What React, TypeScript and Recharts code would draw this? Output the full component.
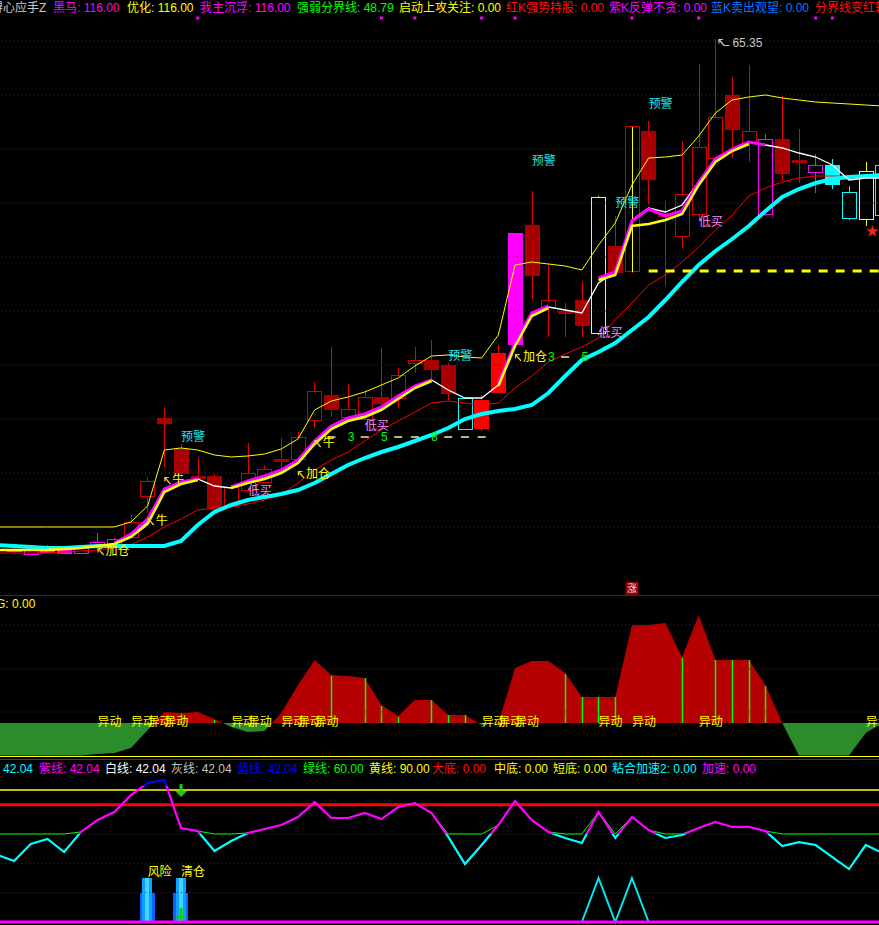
import React from 'react';
import { ComposedChart, Bar, Line, Area, XAxis, YAxis, ReferenceLine } from 'recharts';

const FONT = "'Liberation Sans','Noto Sans CJK SC',sans-serif";

// trading-day slots (slot 0 sits just off the left edge)
const DAYS = Array.from({ length: 54 }, (_, k) => k);

// ---------- candles ----------
const OPEN = [null, 39.70, 39.55, 39.80, 39.85, 39.60, 39.90, 40.00, 40.40, 42.45, 46.35, 44.80, 43.45, 43.45, 41.95, 42.75, 43.15, 44.30, 44.30, 46.25, 47.50, 46.40, 46.30, 47.40, 47.35, 49.10, 49.25, 49.00, 45.80, 45.85, 47.65, 50.05, 56.00, 51.90, 51.70, 52.25, 50.60, 54.95, 53.70, 60.70, 56.60, 55.45, 56.55, 59.35, 62.50, 60.10, 56.55, 60.30, 59.25, 58.65, 59.00, 56.35, 56.30, 56.50];
const HIGH = [null, 39.90, 39.85, 40.00, 39.95, 40.00, 40.60, 40.35, 41.50, 43.40, 46.85, 45.05, 44.35, 43.55, 43.00, 45.10, 44.00, 45.35, 45.65, 48.15, 49.90, 48.05, 47.75, 49.85, 48.85, 49.90, 50.25, 49.10, 47.35, 47.50, 50.00, 55.60, 57.75, 54.15, 52.10, 53.20, 57.50, 56.50, 60.95, 61.25, 57.25, 60.25, 64.10, 65.35, 63.45, 64.05, 60.60, 62.50, 60.85, 59.60, 59.35, 58.00, 59.20, 59.50];
const LOW = [null, 39.60, 39.50, 39.60, 39.55, 39.55, 39.85, 39.95, 40.35, 41.65, 43.90, 43.35, 43.25, 41.75, 41.90, 42.70, 43.10, 43.60, 44.25, 45.85, 46.40, 46.35, 46.25, 46.85, 46.85, 48.60, 48.25, 47.25, 45.80, 45.70, 47.60, 50.00, 52.30, 50.40, 50.40, 50.40, 50.50, 53.60, 53.65, 57.10, 53.00, 54.90, 56.25, 59.25, 59.40, 59.20, 56.50, 58.25, 58.15, 57.65, 57.85, 56.30, 56.00, 56.25];
const CLOSE = [null, 39.80, 39.75, 39.65, 39.60, 39.90, 40.15, 40.30, 41.15, 43.20, 46.10, 43.60, 43.35, 41.90, 42.90, 43.60, 43.80, 44.20, 45.40, 47.70, 46.80, 46.80, 47.40, 47.10, 48.50, 49.25, 48.80, 47.60, 47.35, 47.25, 49.60, 55.60, 53.50, 52.25, 51.60, 51.00, 57.40, 53.65, 60.95, 58.30, 56.45, 57.55, 59.90, 61.40, 60.80, 60.70, 60.30, 58.60, 59.15, 59.00, 58.05, 57.65, 58.70, 59.00];
// candle signal class: n normal, p purple-K, ps purple solid, c blue-K, y yellow, s strong red, nm normal with marker
const KIND = [null, 'p', 'p', 'p', 'p', 'p', 'p', 'p',
  'n', 'n', 'n', 'n', 'n', 'n', 'n', 'n', 'n', 'n', 'n', 'n', 'n', 'n', 'n', 'n', 'n', 'n', 'n', 'n',
  'c', 's', 's', 'ps', 'n', 'n', 'n', 'n', 'y', 'n', 'nm', 'n', 'n', 'n', 'n', 'n', 'n', 'n', 'p', 'n', 'n', 'p', 'c', 'c', 'y', 'c'];

// ---------- moving lines ----------
const CYAN_MA = [40.00, 39.95, 39.90, 39.85, 39.85, 39.90, 39.95, 39.95, 39.95, 39.95, 39.95, 40.20, 41.00, 41.65, 42.00, 42.25, 42.40, 42.55, 42.75, 43.10, 43.55, 44.00, 44.35, 44.65, 44.90, 45.20, 45.50, 45.85, 46.30, 46.55, 46.70, 46.80, 47.00, 47.60, 48.45, 49.25, 49.65, 50.10, 50.75, 51.40, 52.25, 53.15, 54.00, 54.70, 55.30, 55.95, 56.70, 57.40, 57.80, 58.10, 58.30, 58.40, 58.45, 58.50];
const RED_MA = [39.60, 39.60, 39.60, 39.60, 39.65, 39.70, 39.75, 39.85, 40.00, 40.40, 40.90, 41.30, 41.75, 41.85, 41.90, 42.05, 42.25, 42.50, 43.10, 43.75, 44.25, 44.65, 45.20, 45.75, 46.20, 46.65, 47.10, 47.20, 47.10, 47.00, 47.10, 47.85, 48.45, 49.15, 49.55, 49.90, 50.35, 51.25, 52.10, 53.00, 53.50, 54.15, 54.90, 55.75, 56.50, 57.45, 57.85, 58.15, 58.35, 58.45, 58.45, 58.45, 58.45, 58.45];
const WHITE_MA = [39.75, 39.75, 39.75, 39.75, 39.80, 39.85, 39.95, 40.05, 40.45, 41.15, 42.75, 43.10, 43.30, 42.95, 42.85, 43.15, 43.35, 43.65, 44.15, 45.10, 45.85, 46.25, 46.45, 46.80, 47.35, 47.90, 48.25, 47.75, 47.35, 47.35, 48.00, 50.15, 51.60, 51.90, 51.75, 51.60, 53.10, 53.65, 56.25, 56.85, 56.65, 57.00, 58.15, 59.25, 59.75, 60.15, 60.00, 59.85, 59.60, 59.40, 59.00, 58.25, 58.35, 58.35];
const YELLOW_MA = [39.75, 39.75, 39.75, 39.75, 39.80, 39.85, 39.95, 40.05, 40.40, 41.05, 42.65, 43.05, 43.25, null, 42.85, 43.10, 43.30, 43.60, 44.10, 45.05, 45.80, 46.20, 46.40, 46.75, 47.30, 47.85, 48.20, null, null, null, 47.95, 49.95, 51.45, 51.85, null, null, 53.25, 53.50, 55.95, 56.05, 56.25, 56.55, 58.00, 59.15, 59.70, 60.05, null, null, null, null, null, null, null, null];
const MAGENTA_MA = [null, null, null, null, null, null, null, 40.10, 40.55, 41.30, 42.80, 43.15, 43.30, null, 42.90, 43.20, 43.45, 43.75, 44.25, 45.20, 45.95, 46.35, 46.55, 46.90, 47.45, 47.95, 48.25, null, null, null, 48.10, 50.10, 51.60, 51.95, null, null, 53.35, 53.65, 56.20, 56.80, 56.45, 56.70, 58.15, 59.30, 59.80, 60.15, 60.00, null, null, null, null, null, null, null];
const UPPER_MA = [40.90, 40.90, 40.90, 40.90, 40.90, 40.90, 40.90, 40.90, 41.15, 41.95, 44.75, 44.85, 44.75, 44.50, 44.40, 44.45, 44.55, 44.80, 45.30, 46.75, 47.20, 47.40, 47.65, 48.00, 48.35, 48.95, 49.45, 49.50, 49.40, 49.35, 50.50, 54.00, 54.15, 54.05, 53.95, 53.75, 55.00, 56.10, 58.00, 59.35, 59.40, 59.50, 60.45, 61.60, 62.25, 62.40, 62.50, 62.35, 62.25, 62.15, 62.10, 62.05, 62.00, 61.95];

const PRICE_GRID = [65.20, 62.50, 59.80, 57.10, 54.40, 51.70, 49.00, 46.30, 43.60, 40.90];
const SUPPORT_LEVEL = 53.70;
const MARK_LEVEL = 66.35;

// [day, text, price]
const SIGNALS: [number, string, number][] = [
  [6, '加仓', 39.70], [9, '牛', 41.20], [10, '牛', 43.25], [11, '预警', 45.40], [15, '低买', 42.70],
  [18, '加仓', 43.55], [19, '牛', 45.10], [22, '低买', 45.95], [27, '预警', 49.45], [31, '加仓', 49.40],
  [32, '预警', 59.20], [36, '低买', 50.60], [37, '预警', 57.10], [38, '涨', 37.85], [39, '预警', 62.05],
  [42, '低买', 56.15], [43, '65.35', 65.10], [52, '★', 55.70],
];
const LEVELS: [number, string, number][] = [
  [20, '-', 45.40], [21, '3', 45.40], [22, '-', 45.40], [23, '5', 45.40], [24, '-', 45.40], [25, '-', 45.40],
  [26, '8', 45.40], [27, '-', 45.40], [28, '-', 45.40], [29, '-', 45.40],
  [33, '3', 49.40], [34, '-', 49.40], [35, '5', 49.40],
];
const MARK_DAYS = [12, 23, 25, 29, 31, 38, 42, 49, 50];

// ---------- middle panel ----------
const MID = [-32.5, -32.5, -32.5, -32.5, -32.5, -32.5, -31, -30, -25, -7, 11, 10, 11, 4, -4, -9, -8, 10, 38, 63, 48, 47, 45, 18, 7, 23, 23, 8, 8, -2, 0, 55, 62, 62, 50, 26, 26, 26, 98, 98, 100, 66, 108, 63, 63, 63, 38, 0, -32.5, -32.5, -32.5, -32.5, -10, 0];
const STICKS: [number, number][] = [[11, 9], [13, 3], [20, 47], [22, 45], [23, 17], [24, 6], [26, 23], [27, 8], [28, 8], [34, 49], [35, 26], [36, 26], [37, 26], [41, 65], [43, 63], [44, 63], [45, 63], [46, 37]];
const YIDONG_DAYS = [6, 8, 9, 10, 14, 15, 17, 18, 19, 29, 30, 31, 36, 38, 42, 52];
const MID_GRID = [11, 54, 98];

// ---------- bottom panel ----------
const OSC = [45.7, 41.6, 53.2, 56.6, 47.7, 61.4, 69.5, 75.0, 86.6, 94.8, 96.8, 64.1, 62.0, 48.4, 55.2, 60.7, 63.4, 66.1, 71.6, 81.8, 70.9, 70.9, 74.3, 70.2, 78.4, 81.1, 74.3, 58.0, 39.5, 52.5, 66.1, 82.5, 69.5, 61.4, 57.3, 53.9, 75.0, 57.3, 71.6, 62.7, 57.3, 59.3, 64.1, 68.2, 64.8, 64.8, 62.0, 51.8, 54.5, 52.5, 44.3, 36.1, 52.5, 47.0];
const GREEN60 = [60, 60, 60, 60, 60, 61.4, 69.5, 75.0, 86.6, 94.8, 96.8, 64.1, 62.0, 60, 60, 60.7, 63.4, 66.1, 71.6, 81.8, 70.9, 70.9, 74.3, 70.2, 78.4, 81.1, 74.3, 60, 60, 60, 66.1, 82.5, 69.5, 61.4, 60, 60, 75.0, 60, 71.6, 62.7, 60, 60, 64.1, 68.2, 64.8, 64.8, 62.0, 60, 60, 60, 60, 60, 60, 60];
const RISK: [number, number, number, string][] = [[9, 30, 20, '风险'], [11, 30, 20, '清仓']];
const ARROWS: [number, number, number][] = [[11, 85.2, 0.7]];
const TRI: [number, number][] = [[35, 0], [36, 30], [37, 0], [38, 30], [39, 0]];

// ---------- tables ----------
const topData = DAYS.map((d, k) => {
  const sg = SIGNALS.find((s) => s[0] === d);
  const lv = LEVELS.find((s) => s[0] === d);
  return {
    d,
    range: HIGH[k] == null ? null : [LOW[k], HIGH[k]],
    open: OPEN[k], high: HIGH[k], low: LOW[k], close: CLOSE[k], kind: KIND[k],
    cyan: CYAN_MA[k], red: RED_MA[k], white: WHITE_MA[k], yellow: YELLOW_MA[k], magenta: MAGENTA_MA[k], upper: UPPER_MA[k],
    sig: sg ? sg[1] : null, sigPrice: sg ? sg[2] : null,
    lvl: lv ? lv[1] : null, lvlPrice: lv ? lv[2] : null,
    mk: MARK_DAYS.includes(d) ? MARK_LEVEL : null,
  };
});
const midData = DAYS.map((d, k) => {
  const st = STICKS.find((s) => s[0] === d);
  return { d, mid: MID[k], stick: st ? st[1] : null, yd: YIDONG_DAYS.includes(d) ? 0.5 : null };
});
const botData = DAYS.map((d, k) => {
  const r = RISK.find((s) => s[0] === d);
  const a = ARROWS.find((s) => s[0] === d);
  const t = TRI.find((s) => s[0] === d);
  return {
    d, osc: OSC[k], g60: GREEN60[k],
    risk: r ? r[1] : null, riskLow: r ? r[2] : null, riskText: r ? r[3] : null, riskLabel: r ? r[1] + 4 : null,
    arrA: a ? a[1] : null, arrB: a ? a[2] : null,
    tri: t ? t[1] : null,
  };
});

// ---------- shapes ----------
function Candle(props: any) {
  const { x, y, width, height, payload } = props;
  if (!payload || payload.high == null || payload.low == null) return <g />;
  const { open, close, high, low, kind } = payload;
  const t = Math.min(y, y + height);
  const b = Math.max(y, y + height);
  const span = high - low;
  const s = span > 0 ? (b - t) / span : 0;
  const py = (v: number) => t + (high - v) * s;
  const cx = Math.round(x + width / 2) + 0.5;
  const half = 7;
  const up = close >= open;
  let color = '#d40000';
  let wick = '#e80000';
  let solid = !up;
  if (kind === 'p') { color = wick = '#ff00ff'; }
  else if (kind === 'ps') { color = wick = '#ff00ff'; solid = true; }
  else if (kind === 'c') { color = wick = '#00ffff'; }
  else if (kind === 'y') { color = wick = '#ffff00'; solid = false; }
  else if (kind === 's') { color = wick = '#ff0000'; solid = true; }
  else if (!up) { color = '#a80000'; }
  let bt = py(Math.max(open, close));
  let bb = py(Math.min(open, close));
  if (bb - bt < 2) { const m = (bt + bb) / 2; bt = m - 1; bb = m + 1; }
  bt = Math.round(bt) + 0.5;
  bb = Math.round(bb) + 0.5;
  const yH = Math.round(t) + 0.5;
  const yL = Math.round(b) + 0.5;
  return (
    <g shapeRendering="crispEdges">
      {solid ? (
        <line x1={cx} x2={cx} y1={yH} y2={yL} stroke={wick} />
      ) : (
        <g>
          <line x1={cx} x2={cx} y1={yH} y2={bt} stroke={wick} />
          <line x1={cx} x2={cx} y1={bb} y2={yL} stroke={wick} />
        </g>
      )}
      <rect x={cx - half} y={bt} width={half * 2} height={bb - bt} fill={solid ? color : 'none'} stroke={color} strokeWidth={1} />
      {kind === 'nm' && <line x1={cx} x2={cx} y1={bt} y2={bb} stroke="#ffff00" />}
    </g>
  );
}

// small north-west arrow drawn as lines (narrow like the terminal's glyph)
function nwArrow(x: number, y: number, color: string) {
  return (
    <g>
      <line x1={x + 6} y1={y + 4} x2={x + 0.5} y2={y - 2.5} stroke={color} strokeWidth={1.2} />
      <polyline points={`${x + 0.5},${y + 1.5} ${x + 0.5},${y - 2.5} ${x + 4.5},${y - 2.5}`} fill="none" stroke={color} strokeWidth={1.2} />
    </g>
  );
}

const SIG_COLOR: Record<string, string> = { '预警': '#20e8e8', '低买': '#ff88ff' };

function renderSignal(p: any) {
  const { cx, cy, payload, index } = p;
  const s = payload && payload.sig;
  const key = `sig${index}`;
  if (!s || cy == null || isNaN(cy)) return <g key={key} />;
  if (s === '涨') {
    return (
      <g key={key}>
        <rect x={cx - 6.5} y={cy - 6} width={13} height={13} fill="#8c0000" />
        <text x={cx} y={cy + 1} textAnchor="middle" dominantBaseline="central" fill="#ffd8d8" fontSize={10} fontFamily={FONT}>涨</text>
      </g>
    );
  }
  if (s === '★') {
    return <text key={key} x={cx} y={cy} dominantBaseline="central" fill="#ff2020" fontSize={13} fontFamily={FONT}>★</text>;
  }
  if (s === '牛' || s === '加仓') {
    return (
      <g key={key}>
        {nwArrow(cx, cy, '#e8d040')}
        <text x={cx + 8} y={cy} dominantBaseline="central" fill="#ffff00" fontSize={12} fontFamily={FONT}>{s}</text>
      </g>
    );
  }
  if (SIG_COLOR[s]) {
    return <text key={key} x={cx} y={cy} dominantBaseline="central" fill={SIG_COLOR[s]} fontSize={12} fontFamily={FONT}>{s}</text>;
  }
  return (
    <g key={key}>
      {nwArrow(cx + 3, cy - 1, '#c8c8c8')}
      <line x1={cx + 9} y1={cy + 2.5} x2={cx + 14} y2={cy + 2.5} stroke="#c8c8c8" />
      <text x={cx + 17} y={cy} dominantBaseline="central" fill="#c8c8c8" fontSize={12} fontFamily={FONT}>{s}</text>
    </g>
  );
}

function renderLevel(p: any) {
  const { cx, cy, payload, index } = p;
  const key = `lv${index}`;
  const s = payload && payload.lvl;
  if (!s || cy == null || isNaN(cy)) return <g key={key} />;
  if (s === '-') return <line key={key} x1={cx - 4} x2={cx + 4} y1={cy} y2={cy} stroke="#f0f0a0" strokeWidth={1.5} />;
  return <text key={key} x={cx + 3} y={cy} textAnchor="middle" dominantBaseline="central" fill="#00ff00" fontSize={12} fontFamily={FONT}>{s}</text>;
}

function renderMark(p: any) {
  const { cx, cy, payload, index } = p;
  const key = `mk${index}`;
  if (!payload || payload.mk == null || cy == null) return <g key={key} />;
  return <rect key={key} x={cx - 1.5} y={cy - 1.5} width={3} height={3} fill="#ff00ff" />;
}

function Stick(props: any) {
  const { x, y, width, height, payload } = props;
  if (!payload || payload.stick == null) return <g />;
  const cx = Math.round(x + width / 2) + 0.5;
  return <line x1={cx} x2={cx} y1={y} y2={y + height} stroke="#00ff00" strokeWidth={1.5} />;
}

function renderYidong(p: any) {
  const { cx, cy, payload, index } = p;
  const key = `yd${index}`;
  if (!payload || payload.yd == null || cy == null) return <g key={key} />;
  return <text key={key} x={cx} y={cy} dominantBaseline="central" fill="#ffff00" fontSize={12} fontFamily={FONT}>异动</text>;
}

function RiskBar(props: any) {
  const { x, y, width, height, payload } = props;
  if (!payload || payload.risk == null) return <g />;
  const cx = x + width / 2;
  const top = Math.min(y, y + height);
  const base = Math.max(y, y + height);
  const lowTop = base - (base - top) * (payload.riskLow / payload.risk);
  return (
    <g shapeRendering="crispEdges">
      <rect x={cx - 7.5} y={lowTop} width={15} height={base - lowTop} fill="#0a64ff" />
      <rect x={cx - 5} y={top} width={10} height={base - top} fill="#10a0ff" />
      <rect x={cx - 2} y={top} width={4} height={base - top} fill="#40d4ff" />
    </g>
  );
}

function arrowShape(cx: number, cy: number, key: string) {
  return (
    <g key={key}>
      <rect x={cx - 1.5} y={cy - 13} width={3} height={8} fill="#10d010" />
      <polygon points={`${cx - 6},${cy - 6} ${cx + 6},${cy - 6} ${cx},${cy}`} fill="#10d010" />
    </g>
  );
}
function renderArrowA(p: any) {
  const { cx, cy, payload, index } = p;
  if (!payload || payload.arrA == null || cy == null) return <g key={`aa${index}`} />;
  return arrowShape(cx, cy, `aa${index}`);
}
function renderArrowB(p: any) {
  const { cx, cy, payload, index } = p;
  if (!payload || payload.arrB == null || cy == null) return <g key={`ab${index}`} />;
  return arrowShape(cx, cy, `ab${index}`);
}
function renderRiskLabel(p: any) {
  const { cx, cy, payload, index } = p;
  if (!payload || payload.riskText == null || cy == null) return <g key={`rl${index}`} />;
  return <text key={`rl${index}`} x={cx} y={cy} dominantBaseline="central" fill="#ffff00" fontSize={12} fontFamily={FONT}>{payload.riskText}</text>;
}

// ---------- header texts ----------
const TOP_HEAD: [number, string, string][] = [
  [-9, '得心应手Z', '#c8c8c8'], [53, '黑马: 116.00', '#ff00ff'], [127, '优化: 116.00', '#ffff00'],
  [200, '我主沉浮: 116.00', '#ff00ff'], [297, '强弱分界线: 48.79', '#00ff00'], [399, '启动上攻关注: 0.00', '#ffff00'],
  [506, '红K强势持股: 0.00', '#ff1010'], [609, '紫K反弹不贪: 0.00', '#ff00ff'], [711, '蓝K卖出观望: 0.00', '#0078ff'],
  [815, '分界线变红转强: 0.00', '#ff1010'],
];
const MID_HEAD: [number, string, string][] = [[-4, 'G: 0.00', '#ffff00']];
const BOT_HEAD: [number, string, string][] = [
  [3, '42.04', '#00ffff'], [39, '紫线: 42.04', '#ff00ff'], [105, '白线: 42.04', '#ffffff'], [171, '灰线: 42.04', '#c0c0c0'],
  [237, '蓝线: 42.04', '#0000ff'], [303, '绿线: 60.00', '#00ff00'], [369, '黄线: 90.00', '#ffff00'], [432, '大底: 0.00', '#ff1010'],
  [494, '中底: 0.00', '#ffff00'], [553, '短底: 0.00', '#ffff00'], [612, '粘合加速2: 0.00', '#00ffff'], [702, '加速: 0.00', '#ff00ff'],
];

const Head = ({ items, top }: { items: [number, string, string][]; top: number }) => (
  <>
    {items.map(([x, t, c], i) => (
      <div key={i} style={{ position: 'absolute', left: x, top, color: c, fontSize: 12, lineHeight: '14px', whiteSpace: 'nowrap', fontFamily: FONT }}>{t}</div>
    ))}
  </>
);

const CHART_LEFT = -11.05;
const CHART_W = 901.8;
const M = { top: 0, right: 0, bottom: 0, left: 0 };

export default function App() {
  return (
    <div style={{ position: 'absolute', left: 0, top: 0, width: 879, height: 925, background: '#000', overflow: 'hidden' }}>
      {/* top: price panel */}
      <div style={{ position: 'absolute', left: CHART_LEFT, top: 0 }}>
        <ComposedChart width={CHART_W} height={595} data={topData} margin={M}>
          <XAxis dataKey="d" type="category" hide />
          <YAxis hide domain={[37.5, 67.25]} allowDataOverflow />
          {PRICE_GRID.map((v) => (
            <ReferenceLine key={v} y={v} stroke="#b00000" strokeDasharray="1 3" />
          ))}
          <Bar dataKey="range" isAnimationActive={false} shape={(p: any) => <Candle {...p} />} />
          <Line dataKey="upper" stroke="#ffff00" strokeWidth={1} dot={false} activeDot={false} isAnimationActive={false} />
          <Line dataKey="red" stroke="#ff0000" strokeWidth={1} dot={false} activeDot={false} isAnimationActive={false} />
          <Line dataKey="cyan" stroke="#00ffff" strokeWidth={4} dot={false} activeDot={false} isAnimationActive={false} />
          <Line dataKey="white" stroke="#ffffff" strokeWidth={1.3} dot={false} activeDot={false} isAnimationActive={false} />
          <Line dataKey="magenta" stroke="#ff00ff" strokeWidth={3} dot={false} activeDot={false} isAnimationActive={false} />
          <Line dataKey="yellow" stroke="#ffff00" strokeWidth={2.5} dot={false} activeDot={false} isAnimationActive={false} />
          <ReferenceLine segment={[{ x: 39, y: SUPPORT_LEVEL }, { x: 53, y: SUPPORT_LEVEL }]} stroke="#ffff00" strokeWidth={3} strokeDasharray="9 8" />
          <Line dataKey="lvlPrice" stroke="none" dot={renderLevel} activeDot={false} isAnimationActive={false} />
          <Line dataKey="sigPrice" stroke="none" dot={renderSignal} activeDot={false} isAnimationActive={false} />
          <Line dataKey="mk" stroke="none" dot={renderMark} activeDot={false} isAnimationActive={false} />
        </ComposedChart>
      </div>

      {/* middle panel */}
      <div style={{ position: 'absolute', left: CHART_LEFT, top: 595 }}>
        <ComposedChart width={CHART_W} height={162} data={midData} margin={M}>
          <defs>
            <linearGradient id="midG" x1="0" y1="0" x2="0" y2="162" gradientUnits="userSpaceOnUse">
              <stop offset="0" stopColor="#b40000" />
              <stop offset="0.7901" stopColor="#b40000" />
              <stop offset="0.7901" stopColor="#2a8c2a" />
              <stop offset="1" stopColor="#2a8c2a" />
            </linearGradient>
          </defs>
          <XAxis dataKey="d" type="category" hide />
          <YAxis hide domain={[-34, 128]} allowDataOverflow />
          {MID_GRID.map((v) => (
            <ReferenceLine key={v} y={v} stroke="#b00000" strokeDasharray="1 3" />
          ))}
          <Area dataKey="mid" type="linear" baseValue={0} stroke="none" fill="url(#midG)" fillOpacity={1} dot={false} activeDot={false} isAnimationActive={false} />
          <Bar dataKey="stick" isAnimationActive={false} shape={(p: any) => <Stick {...p} />} />
          <Line dataKey="yd" stroke="none" dot={renderYidong} activeDot={false} isAnimationActive={false} />
        </ComposedChart>
      </div>

      {/* bottom panel */}
      <div style={{ position: 'absolute', left: CHART_LEFT, top: 757 }}>
        <ComposedChart width={CHART_W} height={168} data={botData} margin={M}>
          <defs>
            <linearGradient id="oscG" x1="0" y1="0" x2="0" y2="168" gradientUnits="userSpaceOnUse">
              <stop offset="0" stopColor="#0000ff" />
              <stop offset="0.17" stopColor="#0000ff" />
              <stop offset="0.17" stopColor="#ff00ff" />
              <stop offset="0.458" stopColor="#ff00ff" />
              <stop offset="0.458" stopColor="#00ffff" />
              <stop offset="1" stopColor="#00ffff" />
            </linearGradient>
          </defs>
          <XAxis dataKey="d" type="category" hide />
          <YAxis hide domain={[-2.045, 112.5]} allowDataOverflow />
          {[60, 40, 20].map((v) => (
            <ReferenceLine key={v} y={v} stroke="#b00000" strokeDasharray="1 3" />
          ))}
          <ReferenceLine y={90} stroke="#ffff00" strokeWidth={1.5} />
          <ReferenceLine y={80} stroke="#ff0000" strokeWidth={3} />
          <Bar dataKey="risk" isAnimationActive={false} shape={(p: any) => <RiskBar {...p} />} />
          <Line dataKey="tri" stroke="#00e8f0" strokeWidth={2} dot={false} activeDot={false} isAnimationActive={false} />
          <Line dataKey="g60" stroke="#00ff00" strokeWidth={1} dot={false} activeDot={false} isAnimationActive={false} />
          <Line dataKey="osc" stroke="url(#oscG)" strokeWidth={2.2} dot={false} activeDot={false} isAnimationActive={false} />
          <ReferenceLine y={0} stroke="#ff00ff" strokeWidth={3} />
          <Line dataKey="riskLabel" stroke="none" dot={renderRiskLabel} activeDot={false} isAnimationActive={false} />
          <Line dataKey="arrA" stroke="none" dot={renderArrowA} activeDot={false} isAnimationActive={false} />
          <Line dataKey="arrB" stroke="none" dot={renderArrowB} activeDot={false} isAnimationActive={false} />
        </ComposedChart>
      </div>

      {/* panel separators */}
      <div style={{ position: 'absolute', left: 0, top: 595, width: 879, height: 1, background: '#a00000' }} />
      <div style={{ position: 'absolute', left: 0, top: 756, width: 879, height: 1, background: '#ffff00' }} />
      <div style={{ position: 'absolute', left: 0, top: 759, width: 879, height: 1, background: '#d00000' }} />

      <Head items={TOP_HEAD} top={1} />
      <Head items={MID_HEAD} top={597} />
      <Head items={BOT_HEAD} top={762} />
    </div>
  );
}
